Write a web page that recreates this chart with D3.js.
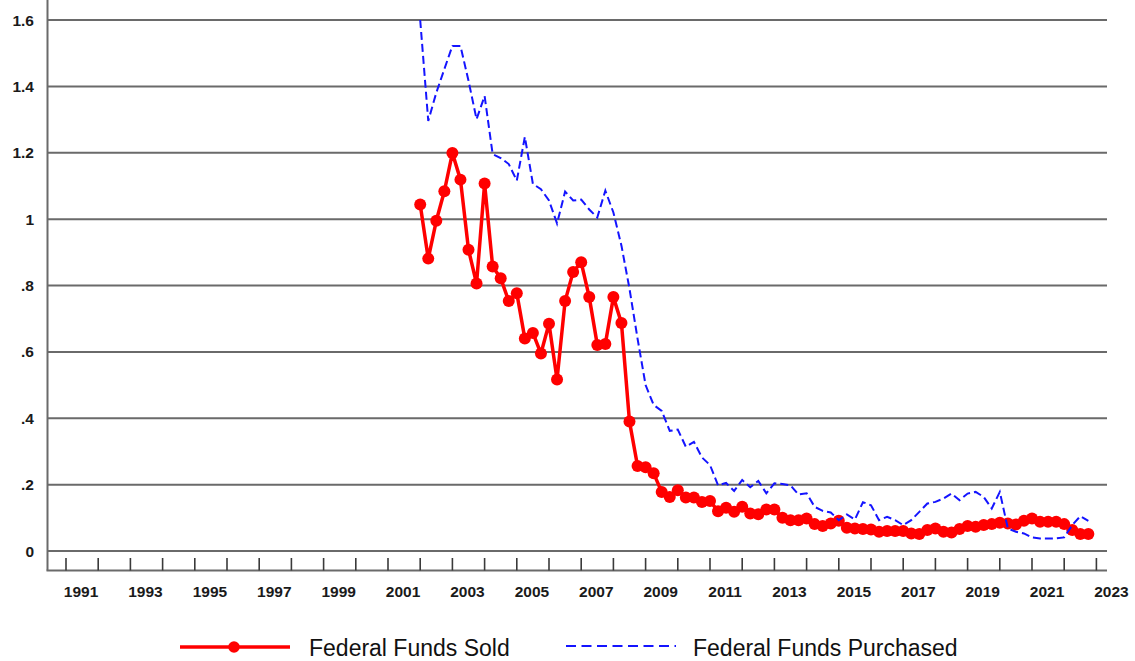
<!DOCTYPE html>
<html><head><meta charset="utf-8">
<script src="https://cdn.jsdelivr.net/npm/d3@7"></script>
<style>
body{margin:0;background:#fff;}
svg{display:block;font-family:"Liberation Sans",Arial,sans-serif;}
</style>
</head><body>
<svg id="chart" width="1135" height="661"></svg>
<script>
// ---- data (quarterly, first point 2002 Q1) ----
const firstYear = 2002;
const fedFundsSold = [
  1.044, 0.881, 0.995, 1.084, 1.199, 1.119, 0.908, 0.806,
  1.107, 0.857, 0.822, 0.753, 0.777, 0.640, 0.657, 0.595,
  0.685, 0.517, 0.753, 0.841, 0.870, 0.765, 0.621, 0.624,
  0.765, 0.687, 0.390, 0.256, 0.252, 0.234, 0.178, 0.163,
  0.183, 0.161, 0.161, 0.148, 0.151, 0.120, 0.130, 0.118,
  0.133, 0.113, 0.111, 0.125, 0.125, 0.100, 0.093, 0.093,
  0.098, 0.081, 0.075, 0.083, 0.091, 0.070, 0.068, 0.066,
  0.065, 0.058, 0.060, 0.060, 0.060, 0.053, 0.051, 0.063,
  0.068, 0.058, 0.056, 0.066, 0.075, 0.073, 0.078, 0.081,
  0.085, 0.083, 0.080, 0.091, 0.098, 0.088, 0.088, 0.088,
  0.081, 0.063, 0.051, 0.051
];
const fedFundsPurchased = [
  1.600, 1.296, 1.381, 1.452, 1.522, 1.522, 1.417, 1.301,
  1.371, 1.196, 1.184, 1.166, 1.116, 1.248, 1.106, 1.090,
  1.056, 0.987, 1.083, 1.056, 1.059, 1.029, 1.005, 1.086,
  1.020, 0.920, 0.790, 0.640, 0.500, 0.440, 0.422, 0.362,
  0.366, 0.314, 0.329, 0.282, 0.259, 0.198, 0.205, 0.181,
  0.214, 0.192, 0.211, 0.174, 0.204, 0.202, 0.198, 0.170,
  0.174, 0.133, 0.121, 0.116, 0.093, 0.110, 0.095, 0.147,
  0.138, 0.093, 0.103, 0.093, 0.078, 0.093, 0.118, 0.143,
  0.148, 0.158, 0.173, 0.153, 0.173, 0.178, 0.163, 0.128,
  0.178, 0.068, 0.058, 0.053, 0.041, 0.038, 0.038, 0.038,
  0.041, 0.078, 0.105, 0.091
];
const yTickValues = [0, 0.2, 0.4, 0.6, 0.8, 1.0, 1.2, 1.4, 1.6];
const yTickLabels = ["0", ".2", ".4", ".6", ".8", "1", "1.2", "1.4", "1.6"];
const xTickYears = d3.range(1991, 2024);        // a tick mark at the start of each year
const xLabelYears = d3.range(1991, 2024, 2);    // labels on odd years
const seriesNames = ["Federal Funds Sold", "Federal Funds Purchased"];

// ---- layout ----
const svg = d3.select("#chart");
const plotLeft = 47.5, plotRight = 1107, plotTop = 0, zeroY = 551, frameBottom = 570.5;

const x = d3.scaleLinear().domain([1991, 2023]).range([66, 1096.4]);
const y = d3.scaleLinear().domain([0, 1.6]).range([zeroY, 20]);

const sold = fedFundsSold.map((v, i) => ({t: firstYear + i / 4, v}));
const purchased = fedFundsPurchased.map((v, i) => ({t: firstYear + i / 4, v}));

// gridlines
svg.append("g").selectAll("line").data(yTickValues).join("line")
  .attr("x1", plotLeft).attr("x2", plotRight)
  .attr("y1", d => y(d)).attr("y2", d => y(d))
  .attr("stroke", "#6a6a6a").attr("stroke-width", 2);

// y-axis line
svg.append("line").attr("x1", plotLeft).attr("x2", plotLeft)
  .attr("y1", plotTop).attr("y2", frameBottom)
  .attr("stroke", "#6a6a6a").attr("stroke-width", 2);
// bottom frame line
svg.append("line").attr("x1", plotLeft - 1).attr("x2", plotRight)
  .attr("y1", frameBottom).attr("y2", frameBottom)
  .attr("stroke", "#6a6a6a").attr("stroke-width", 2);

// y labels
svg.append("g").selectAll("text").data(yTickValues).join("text")
  .attr("x", 34).attr("y", d => y(d))
  .attr("dy", "0.36em").attr("text-anchor", "end")
  .attr("font-size", 15.5).attr("font-weight", "bold").attr("fill", "#1a1a1a")
  .text((d, i) => yTickLabels[i]);

// x ticks
svg.append("g").selectAll("line").data(xTickYears).join("line")
  .attr("x1", d => x(d)).attr("x2", d => x(d))
  .attr("y1", 558).attr("y2", frameBottom)
  .attr("stroke", "#3a3a3a").attr("stroke-width", 1.6);

// x labels (centred in the year)
svg.append("g").selectAll("text").data(xLabelYears).join("text")
  .attr("x", d => x(d + 0.5) - 1).attr("y", 597)
  .attr("text-anchor", "middle")
  .attr("font-size", 15.5).attr("font-weight", "bold").attr("fill", "#1a1a1a")
  .text(d => d);

// clip
svg.append("clipPath").attr("id", "plotclip").append("rect")
  .attr("x", plotLeft).attr("y", plotTop).attr("width", plotRight - plotLeft).attr("height", zeroY - plotTop + 20);

const line = d3.line().x(d => x(d.t)).y(d => y(d.v));
const g = svg.append("g").attr("clip-path", "url(#plotclip)");

// Federal Funds Sold
g.append("path").datum(sold).attr("d", line)
  .attr("fill", "none").attr("stroke", "#ff0000").attr("stroke-width", 3.5)
  .attr("stroke-linejoin", "round");
g.append("g").selectAll("circle").data(sold).join("circle")
  .attr("cx", d => x(d.t)).attr("cy", d => y(d.v)).attr("r", 6)
  .attr("fill", "#ff0000");

// Federal Funds Purchased
g.append("path").datum(purchased).attr("d", line)
  .attr("fill", "none").attr("stroke", "#1414ff").attr("stroke-width", 2)
  .attr("stroke-dasharray", "8,4");

// legend
const lg = svg.append("g");
lg.append("line").attr("x1", 180).attr("x2", 290).attr("y1", 647).attr("y2", 647)
  .attr("stroke", "#ff0000").attr("stroke-width", 3.5);
lg.append("circle").attr("cx", 234).attr("cy", 647).attr("r", 5.8).attr("fill", "#ff0000");
lg.append("text").attr("x", 309).attr("y", 655.5).attr("font-size", 23).attr("fill", "#111")
  .text(seriesNames[0]);
lg.append("line").attr("x1", 566).attr("x2", 676).attr("y1", 646).attr("y2", 646)
  .attr("stroke", "#1414ff").attr("stroke-width", 2).attr("stroke-dasharray", "10,5.5");
lg.append("text").attr("x", 693).attr("y", 655.5).attr("font-size", 23).attr("fill", "#111")
  .text(seriesNames[1]);
</script>
</body></html>
